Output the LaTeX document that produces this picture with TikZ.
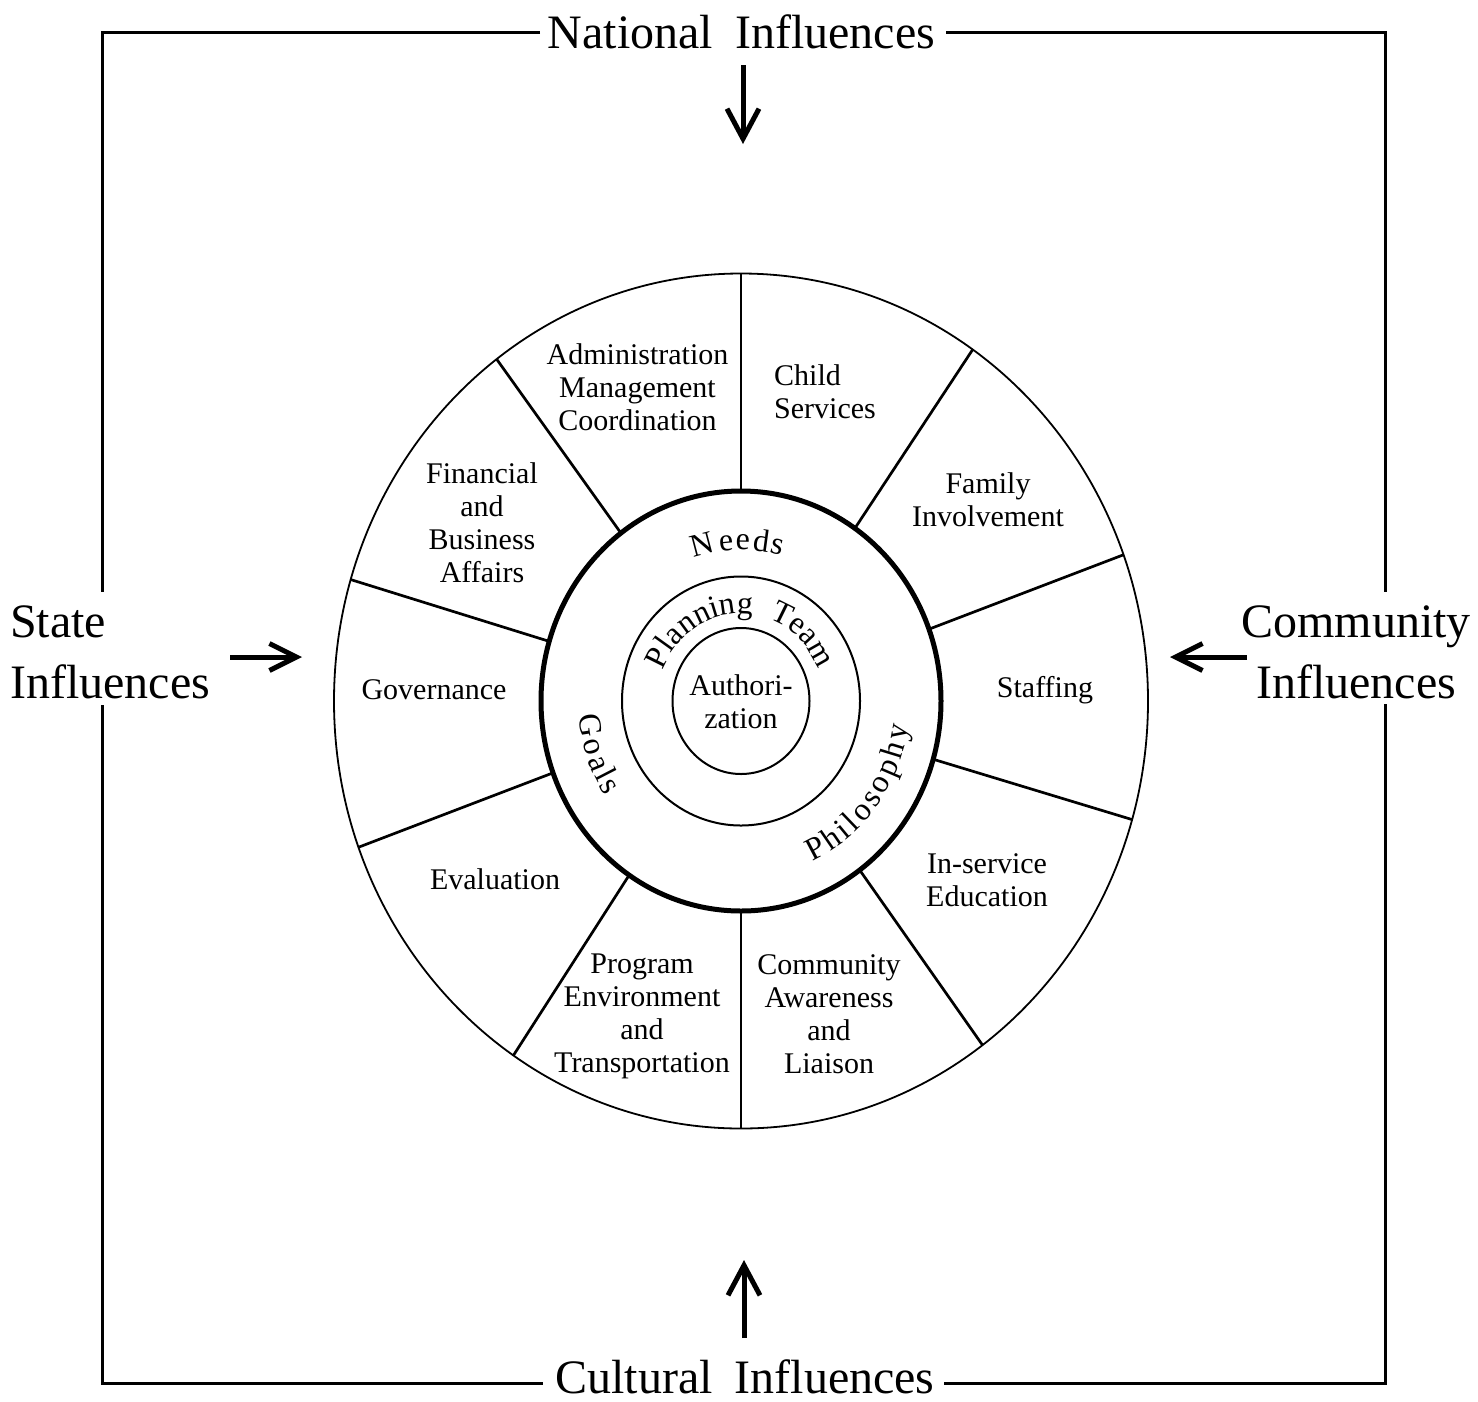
\documentclass[tikz,border=0pt]{standalone}
\usepackage{fontspec}
\setmainfont{Liberation Serif}
\usetikzlibrary{arrows.meta}
\newcommand\cstack[1]{\vtop{\halign{\hfil##\hfil\cr#1\crcr}}}
\newcommand\lstack[1]{\vtop{\halign{##\hfil\cr#1\crcr}}}
\newcommand\mysecfont{\fontsize{30}{33}\selectfont}
\newcommand\mybigfont{\fontsize{48}{61}\selectfont}
\newcommand\myringfont{\fontsize{32}{34}\selectfont}
\begin{document}
\begin{tikzpicture}[x=1pt,y=-1pt,
  frame/.style={line width=3pt},
  arr/.style={line width=5pt,-{Straight Barb[length=30pt,width=32pt,line width=5pt]}},
  harr/.style={line width=5pt,-{Straight Barb[length=27pt,width=27pt,line width=5pt]}},
  spoke/.style={line width=2.7pt},
  big/.style={font=\mybigfont,inner sep=0pt},
  sector/.style={font=\mysecfont,inner sep=0pt,anchor=base},
  ring/.style={font=\myringfont,inner sep=0pt,anchor=base}]
\useasboundingbox (0,0) rectangle (1478,1401);

% frame
\draw[frame] (540,32) -- (102,32) -- (102,592);
\draw[frame] (946,32) -- (1385,32) -- (1385,592);
\draw[frame] (102,705) -- (102,1383) -- (543,1383);
\draw[frame] (1385,704) -- (1385,1383) -- (944,1383);

% influence labels
\node[big,anchor=base] (national) at (741.5,48) {National\hspace{22pt}Influences};
\node[big,anchor=base] (cultural) at (745,1393) {Cultural\hspace{22pt}Influences};
\node[big,anchor=base west] (state) at (10,637) {\lstack{State\cr Influences}};
\node[big,anchor=base] (community) at (1356,637) {\cstack{Community\cr Influences}};

% arrows
\coordinate (natA) at (743,65);   \coordinate (natB) at (743,144);
\coordinate (culA) at (744,1338); \coordinate (culB) at (744,1260);
\coordinate (staA) at (230,657);  \coordinate (staB) at (302,657);
\coordinate (comA) at (1247,657); \coordinate (comB) at (1170,657);
\draw[arr] (natA) -- (natB);
\draw[arr] (culA) -- (culB);
\draw[harr] (staA) -- (staB);
\draw[harr] (comA) -- (comB);

% circles
\coordinate (O) at (741,701);
\draw[line width=1.8pt] (O) ellipse [x radius=407pt, y radius=427.5pt];
\draw[line width=5pt] (O) ellipse [x radius=200pt, y radius=210pt];
\draw[line width=2pt] (O) ellipse [x radius=119pt, y radius=124.5pt];
\draw[line width=2pt] (O) ellipse [x radius=68.5pt, y radius=73pt];

% spokes
\foreach \a in {90,55.3,20,-16.1,-53.6,-90,-124,-160,163.5,126.9}
  \draw[spoke] ({741+200*cos(\a)},{701-210*sin(\a)}) -- ({741+407*cos(\a)},{701-427.5*sin(\a)});

% sector labels
\node[sector] (admin) at (637.5,364) {\cstack{Administration\cr Management\cr Coordination}};
\node[sector] (financial) at (482,483) {\cstack{Financial\cr and\cr Business\cr Affairs}};
\node[sector,anchor=base west] (child) at (774,385) {\lstack{Child\cr Services}};
\node[sector] (family) at (988,493) {\cstack{Family\cr Involvement}};
\node[sector] (staffing) at (1045,697) {Staffing};
\node[sector] (inservice) at (987,873) {\cstack{In-service\cr Education}};
\node[sector] (commaware) at (829,974) {\cstack{Community\cr Awareness\cr and\cr Liaison}};
\node[sector] (program) at (642,973) {\cstack{Program\cr Environment\cr and\cr Transportation}};
\node[sector] (evaluation) at (495,889) {Evaluation};
\node[sector] (governance) at (434,699) {Governance};
\node[sector] (auth) at (741,695) {\cstack{Authori-\cr zation}};

% curved ring labels
\foreach \ch/\a [count=\i] in {N/104.7,e/95.6,e/89.3,d/82.4,s/76.2}
  \node[ring,rotate=\a-90] (needs\i) at ({741+144*cos(\a)},{701-1.05*144*sin(\a)}) {\ch};
\foreach \ch/\a [count=\i] in {P/153.5,l/144.4,a/136.5,n/126.3,n/115.4,i/106.9,n/98.4,g/87.5}
  \node[ring,rotate=\a-90] (plan\i) at ({741+83*cos(\a)},{701-1.05*83*sin(\a)}) {\ch};
\foreach \ch/\a [count=\i] in {T/63.7,e/52.4,a/42.8,m/29.7}
  \node[ring,rotate=\a-90] (team\i) at ({741+83*cos(\a)},{701-1.05*83*sin(\a)}) {\ch};
\foreach \ch/\a [count=\i] in {G/188.6,o/196.5,a/202.6,l/207.3,s/211.6}
  \node[ring,rotate=\a+90] (goals\i) at ({741+163*cos(\a)},{701-1.05*163*sin(\a)}) {\ch};
\foreach \ch/\a [count=\i] in {P/-62.1,h/-55.5,i/-50.3,l/-46.2,o/-41.0,s/-35.3,o/-29.6,p/-23.3,h/-17.0,y/-10.7}
  \node[ring,rotate=\a+90] (phil\i) at ({741+169*cos(\a)},{701-1.05*169*sin(\a)}) {\ch};
\end{tikzpicture}
\end{document}
